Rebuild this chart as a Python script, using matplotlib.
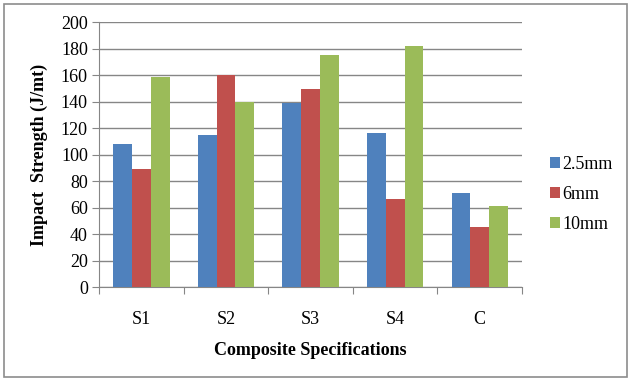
import numpy as np
import matplotlib
matplotlib.use("Agg")
from matplotlib import pyplot as plt
from matplotlib.patches import Rectangle

categories = ['S1', 'S2', 'S3', 'S4', 'C']
series_names = ['2.5mm', '6mm', '10mm']
vals_25 = [108, 115, 139, 116.5, 71]
vals_6 = [89, 160, 149.5, 67, 45.5]
vals_10 = [158.5, 140, 175.5, 182, 61.5]
colors = ['#4F81BD', '#C0504D', '#9BBB59']

plt.rcParams['font.family'] = ['Liberation Serif', 'DejaVu Serif']
fs = 13

fig = plt.figure(figsize=(6.32, 3.81), dpi=100)
W, H = 632, 381
ax = fig.add_axes([99 / W, 1 - 287.3 / H, (522 - 99) / W, (287.3 - 22.3) / H])

# outer chart border
fig.patches.append(Rectangle((4 / W, 4 / H), 623 / W, 373 / H, transform=fig.transFigure,
                             fill=False, edgecolor='#8c8c8c', linewidth=1.2))

x = np.arange(len(categories))
w = 1 / 4.5
for i, (vals, name) in enumerate(zip([vals_25, vals_6, vals_10], series_names)):
    ax.bar(x + (i - 1) * w, vals, width=w, color=colors[i], label=name, zorder=3)

ax.set_xlim(-0.5, len(categories) - 0.5)
ax.set_ylim(0, 200)
ax.set_yticks(np.arange(0, 201, 20))
ax.yaxis.grid(True, color='#868686', linewidth=1.0, zorder=0)

ax.set_xticks(np.arange(-0.5, len(categories), 1.0))
ax.set_xticklabels([])
ax.set_xticks(x, minor=True)
ax.set_xticklabels(categories, minor=True)
ax.tick_params(axis='x', which='minor', length=0, pad=17, labelsize=fs)
ax.tick_params(axis='x', which='major', length=5, color='#868686', direction='out')
ax.tick_params(axis='y', length=5, color='#868686', direction='out', labelsize=fs, pad=3)

for side in ['top', 'right']:
    ax.spines[side].set_visible(False)
for side in ['left', 'bottom']:
    ax.spines[side].set_color('#868686')

ax.set_xlabel('Composite Specifications', fontsize=fs, fontweight='bold', labelpad=10)
ax.set_ylabel('Impact  Strength (J/mt)', fontsize=fs, fontweight='bold', labelpad=9)

ax.legend(loc='upper left', bbox_to_anchor=(541 / W, 1 - 147 / H), bbox_transform=fig.transFigure,
          frameon=False, fontsize=fs, handlelength=0.55, handleheight=0.55, handletextpad=0.15,
          labelspacing=0.72, borderpad=0)

plt.savefig('out.png', dpi=100)
